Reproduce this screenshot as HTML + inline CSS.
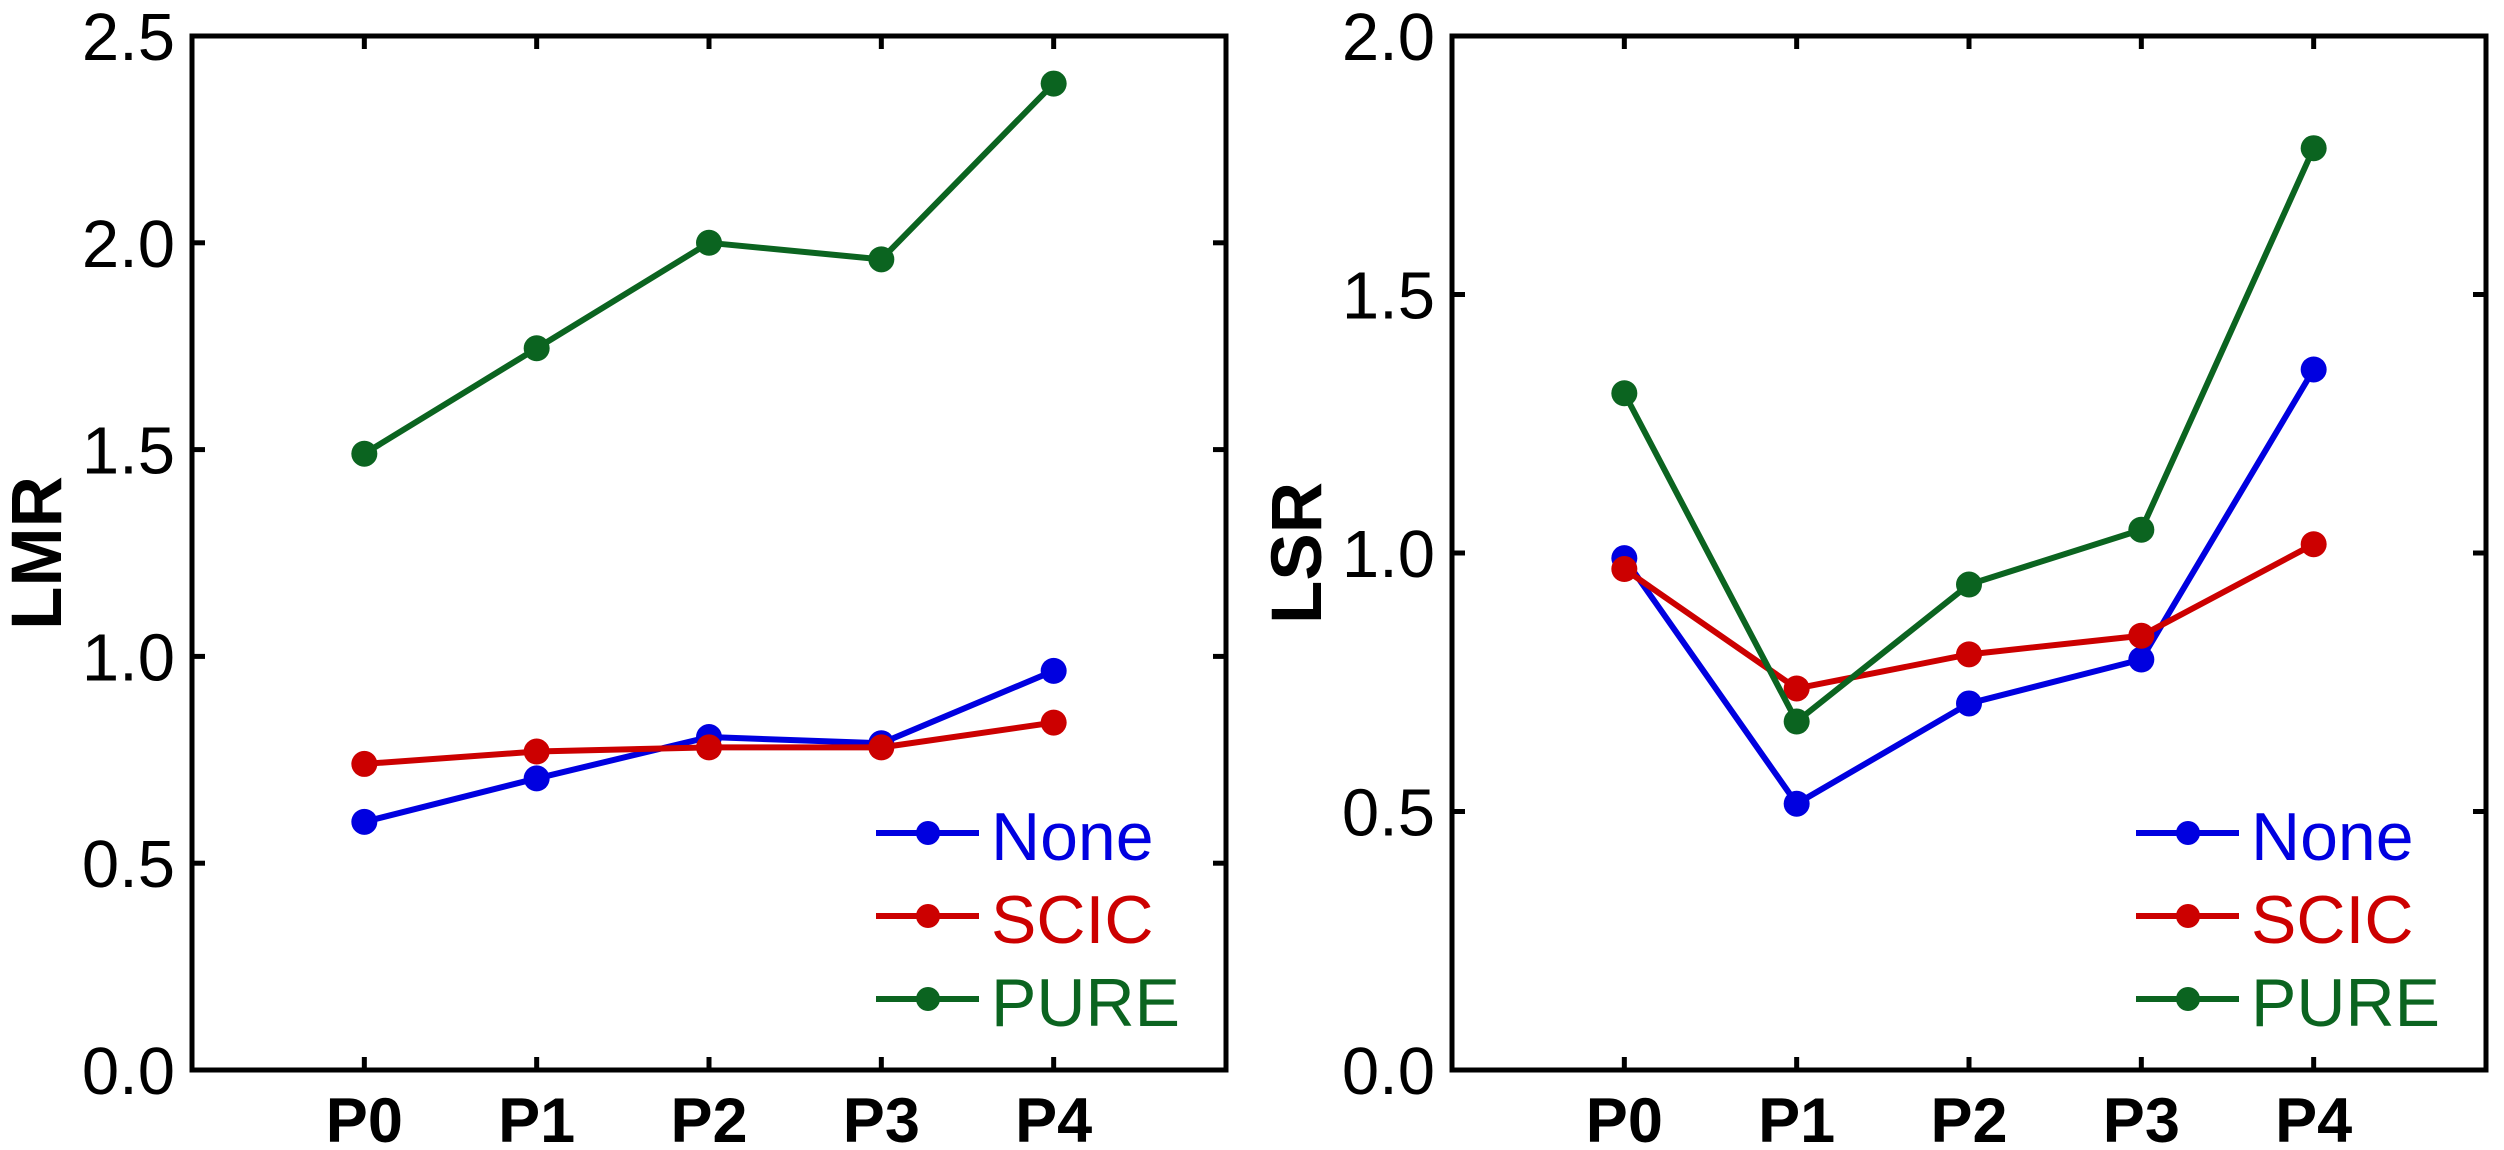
<!DOCTYPE html>
<html><head><meta charset="utf-8"><style>
html,body{margin:0;padding:0;background:#fff;}
svg{display:block;font-family:"Liberation Sans",Arial,sans-serif;}
</style></head><body>
<svg id="fig" width="2504" height="1150" viewBox="0 0 2504 1150"></svg>
<script>
const categories = ["P0","P1","P2","P3","P4"];
const seriesNames = ["None","SCIC","PURE"];
const seriesColors = ["#0000e0","#cc0000","#0b6420"];
const lmrNone = [0.60, 0.705, 0.805, 0.79, 0.965];
const lmrScic = [0.74, 0.77, 0.78, 0.78, 0.84];
const lmrPure = [1.49, 1.745, 2.0, 1.96, 2.385];
const lsrNone = [0.99, 0.515, 0.709, 0.794, 1.355];
const lsrScic = [0.969, 0.738, 0.804, 0.84, 1.017];
const lsrPure = [1.309, 0.674, 0.939, 1.045, 1.783];
const lmrTicks = ["0.0","0.5","1.0","1.5","2.0","2.5"];
const lsrTicks = ["0.0","0.5","1.0","1.5","2.0"];

const NS = "http://www.w3.org/2000/svg";
const svg = document.getElementById("fig");
function mk(tag, attrs, parent){
  const e = document.createElementNS(NS, tag);
  for (const k in attrs) e.setAttribute(k, attrs[k]);
  (parent||svg).appendChild(e);
  return e;
}

function panel(name, left, right, top, bottom, ymax, ticks, ylabel, data){
  const g = mk("g", {});
  
  
  const xScale = i => left + (i + 1) * (right - left) / (categories.length + 1);
  const yScale = v => bottom - v / ymax * (bottom - top);
  // ticks
  ticks.forEach(t => {
    const y = yScale(parseFloat(t));
    const tl = mk("line", {x1:left, x2:left+13, y1:y, y2:y, stroke:"#000","stroke-width":5}, g);
    
    
    const tr = mk("line", {x1:right-13, x2:right, y1:y, y2:y, stroke:"#000","stroke-width":5}, g);
    
    
    const lab = mk("text", {x:left-17, y:y+24, "text-anchor":"end", "font-size":67, fill:"#000"}, g);
    lab.textContent = t;
    
    
  });
  categories.forEach((c, i) => {
    const x = xScale(i);
    const tb = mk("line", {x1:x, x2:x, y1:bottom, y2:bottom-13, stroke:"#000","stroke-width":5}, g);
    
    
    const tt = mk("line", {x1:x, x2:x, y1:top, y2:top+13, stroke:"#000","stroke-width":5}, g);
    
    
    const lab = mk("text", {x:x, y:1142, "text-anchor":"middle", "font-size":63, "font-weight":"bold", fill:"#000"}, g);
    lab.textContent = c;
    
    
  });
  const frame = mk("rect", {x:left, y:top, width:right-left, height:bottom-top, fill:"none", stroke:"#000", "stroke-width":5}, g);
  
  
  const yl = mk("text", {x:0, y:0, "text-anchor":"middle", "font-size":71, "font-weight":"bold", fill:"#000",
    transform:"translate("+(left-131)+","+((top+bottom)/2)+") rotate(-90)"}, g);
  yl.textContent = ylabel;
  
  
  // series
  data.forEach((vals, s) => {
    const sg = mk("g", {}, g);
    
    
    const pts = vals.map((v, i) => xScale(i) + "," + yScale(v)).join(" ");
    const pl = mk("polyline", {points:pts, fill:"none", stroke:seriesColors[s], "stroke-width":6, "stroke-linejoin":"round"}, sg);
    
    
    vals.forEach((v, i) => {
      const c = mk("circle", {cx:xScale(i), cy:yScale(v), r:13, fill:seriesColors[s]}, sg);
      
      
    });
  });
  // legend
  const lg = mk("g", {}, g);
  
  
  const lx = right - 350;
  seriesNames.forEach((n, s) => {
    const y = 833 + s * 83;
    const eg = mk("g", {}, lg);
    
    
    mk("line", {x1:lx, x2:lx+103, y1:y, y2:y, stroke:seriesColors[s], "stroke-width":6}, eg);
    mk("circle", {cx:lx+52, cy:y, r:12, fill:seriesColors[s]}, eg);
    const t = mk("text", {x:lx+115, y:y+27, "font-size":68, fill:seriesColors[s]}, eg);
    t.textContent = n;
  });
}

panel("lmr", 192, 1226, 36, 1070, 2.5, lmrTicks, "LMR", [lmrNone, lmrScic, lmrPure]);
panel("lsr", 1452, 2486, 36, 1070, 2.0, lsrTicks, "LSR", [lsrNone, lsrScic, lsrPure]);
</script>
</body></html>
